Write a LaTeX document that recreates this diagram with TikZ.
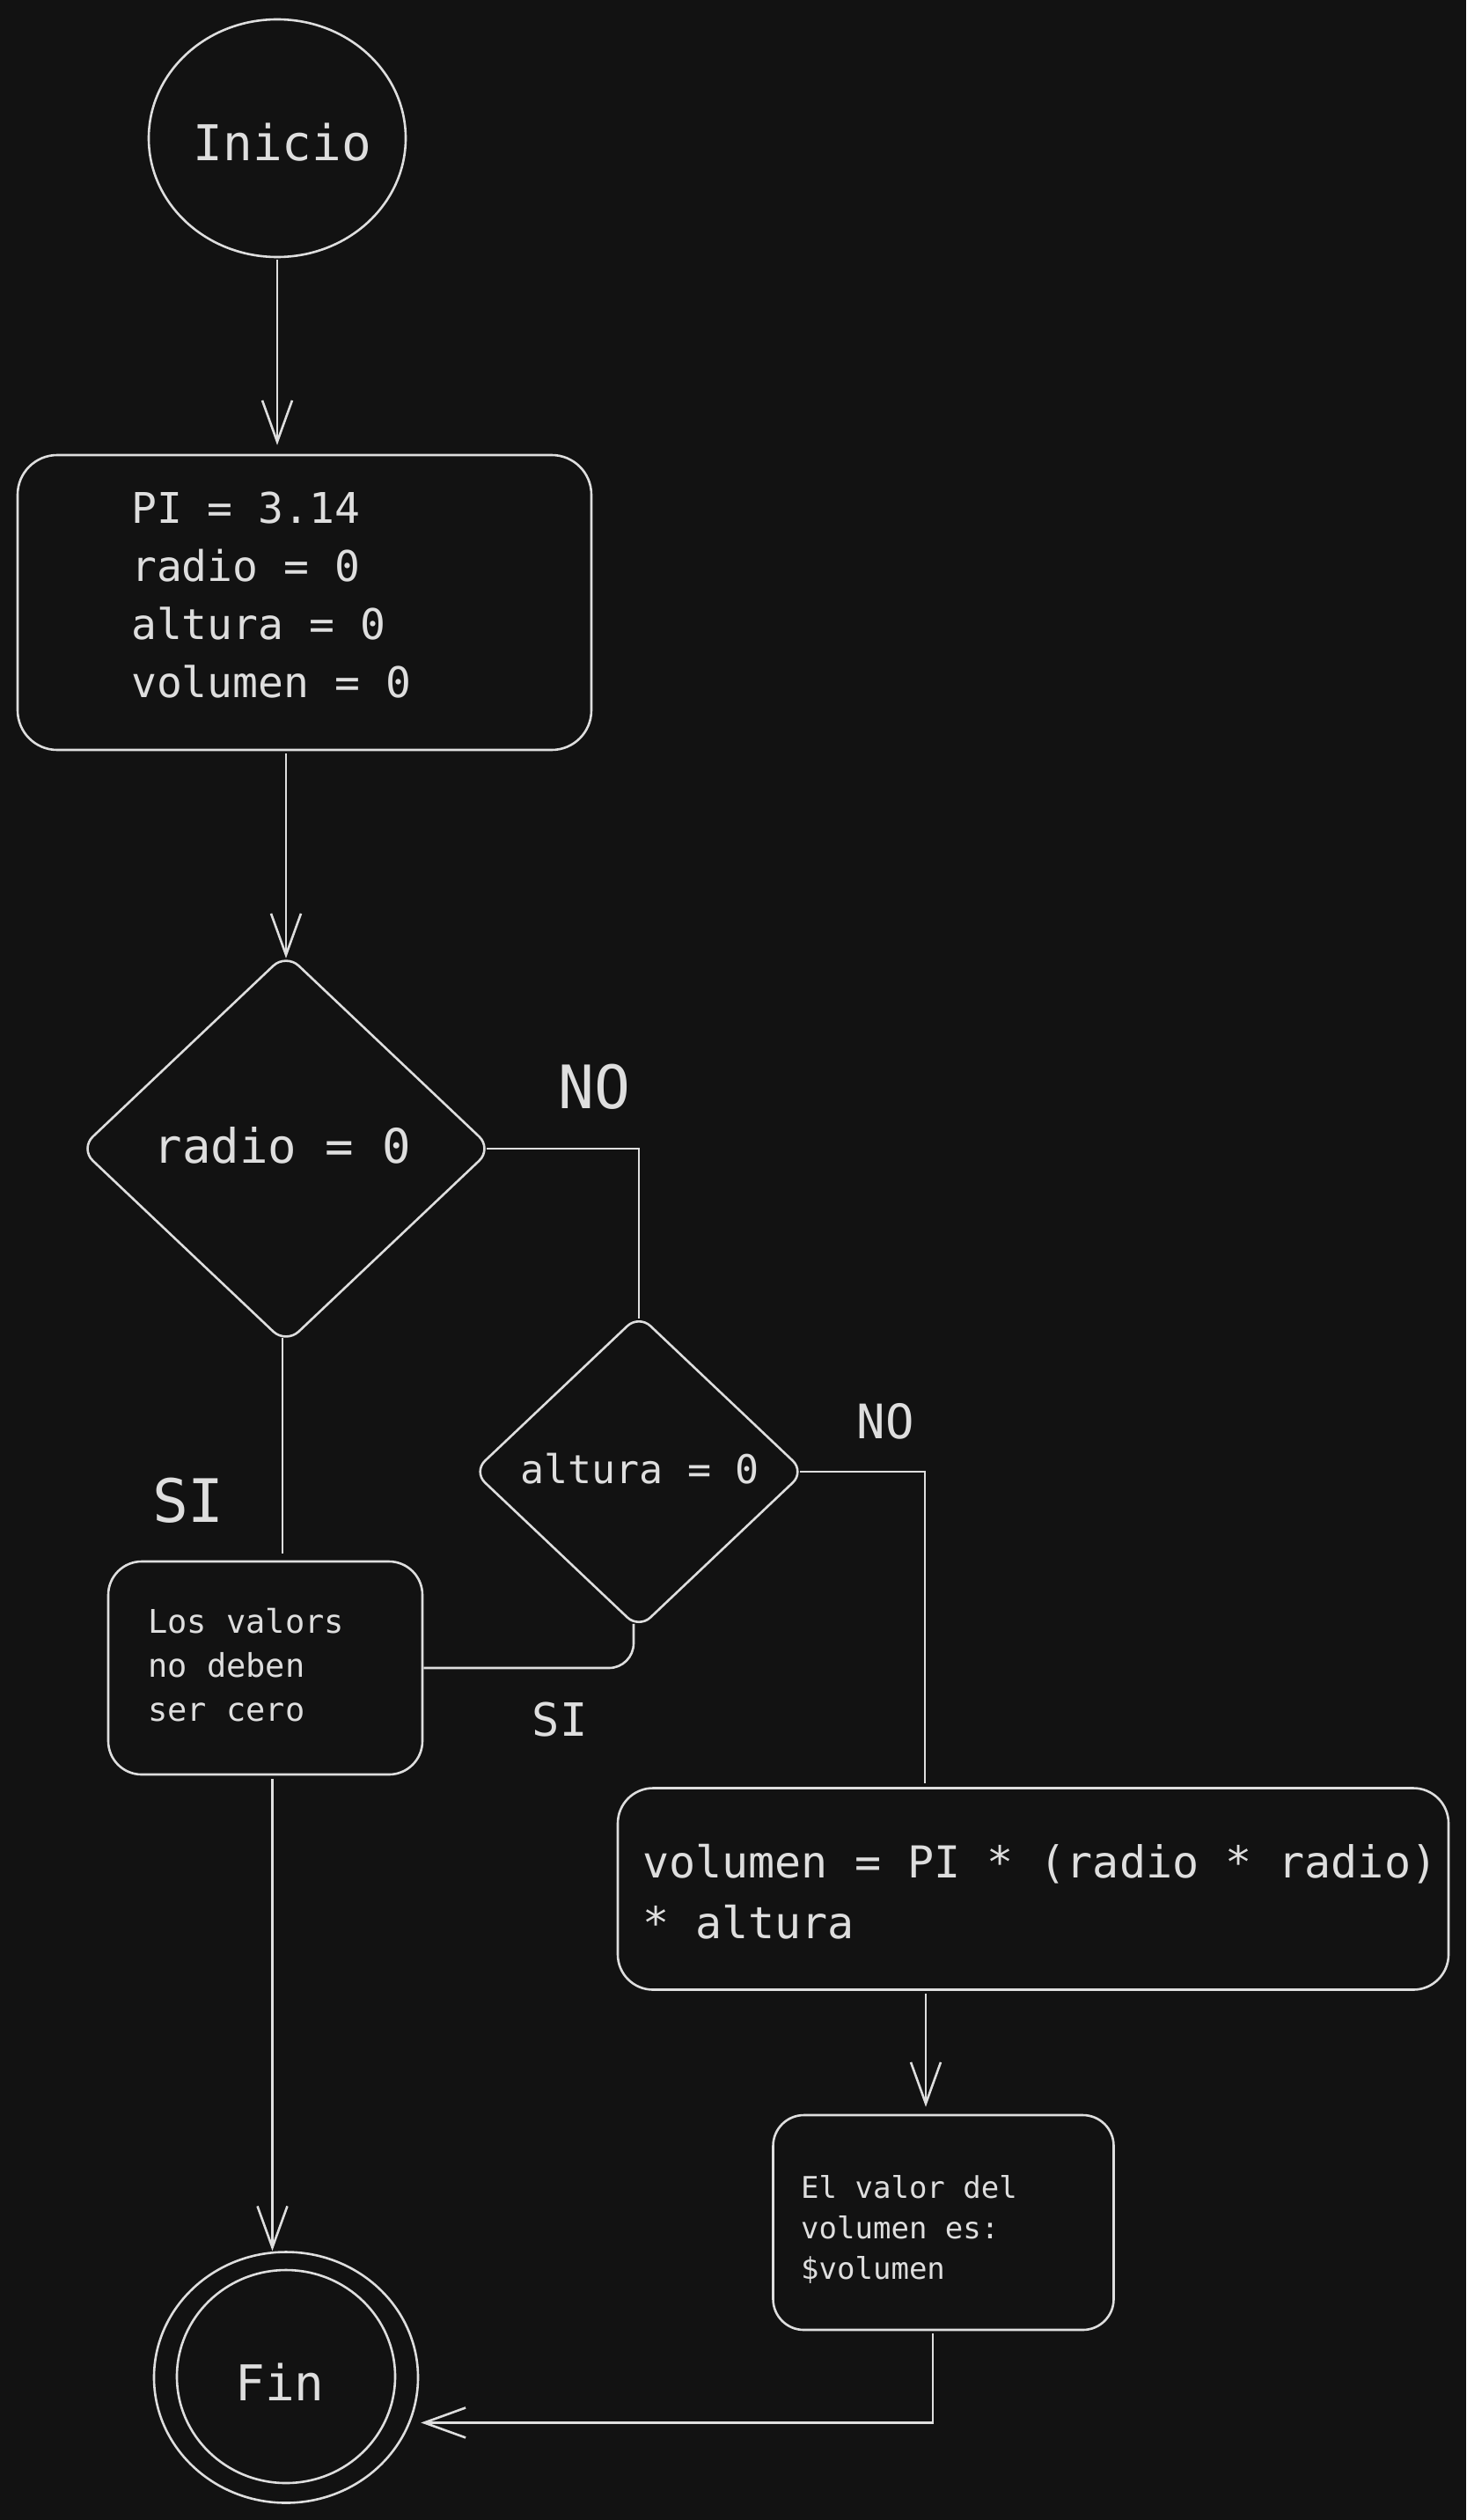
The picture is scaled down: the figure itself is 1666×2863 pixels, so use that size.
\documentclass[tikz,border=0pt]{standalone}
\usepackage{fontspec}
\newfontfamily\hand{DejaVu Sans Mono}
\usetikzlibrary{shapes.geometric,arrows.meta}
\definecolor{bg}{HTML}{121212}
\definecolor{ink}{HTML}{DEDEDE}
\begin{document}
\begin{tikzpicture}[x=1pt,y=-1pt,
  every node/.style={text=ink, font=\hand},
  fs/.style={font=\hand\fontsize{#1}{#1}\selectfont},
  shp/.style={draw=ink, line width=2.6pt, inner sep=0pt},
  box/.style={shp, rectangle, rounded corners=#1},
  dia/.style={shp, diamond, rounded corners=#1},
  txt/.style={anchor=base west, inner sep=0pt},
  ln/.style={draw=ink, line width=2.6pt},
  arr/.style={ln, -{Straight Barb[length=47pt,width=34pt]}}
]
\fill[bg] (0,0) rectangle (1666,2863);
\useasboundingbox (0,0) rectangle (1666,2863);

% Inicio
\node[shp, ellipse, minimum width=292pt, minimum height=270pt] (inicio) at (315,157) {};
\node[fs=56, anchor=base] (tinicio) at (321,183) {Inicio};

% init box
\node[box=45pt, minimum width=652pt, minimum height=335pt] (r1) at (346,684.5) {};
\node[txt, font=\hand\fontsize{48}{66}\selectfont] (tr1) at (149,594)
  {\begin{tabular}[t]{@{}l@{}}PI = 3.14\\radio = 0\\altura = 0\\volumen = 0\end{tabular}};

% decision 1
\node[dia=20pt, minimum width=469pt, minimum height=444pt] (d1) at (325,1305) {};
\node[fs=54, anchor=base] (td1) at (321,1321) {radio = 0};
\node[fs=68, anchor=base] (no1) at (675,1259) {NO};
\node[fs=68, anchor=base] (si1) at (214,1729) {SI};

% decision 2
\node[dia=18pt, minimum width=377pt, minimum height=357pt] (d2) at (726,1672) {};
\node[fs=45, anchor=base] (td2) at (727,1685) {altura = 0};
\node[fs=54, anchor=base] (no2) at (1006,1634) {NO};
\node[fs=52, anchor=base] (si2) at (636,1972) {SI};

% error box
\node[box=38pt, minimum width=357pt, minimum height=242pt] (lv) at (301.5,1895) {};
\node[txt, font=\hand\fontsize{37}{50}\selectfont] (tlv) at (168,1855)
  {\begin{tabular}[t]{@{}l@{}}Los valors\\no deben\\ser cero\end{tabular}};

% formula box
\node[box=40pt, minimum width=944pt, minimum height=229pt] (big) at (1174,2146) {};
\node[txt, font=\hand\fontsize{50}{69}\selectfont] (tbig) at (730,2133)
  {\begin{tabular}[t]{@{}l@{}}volumen = PI * (radio * radio)\\{}* altura\end{tabular}};

% output box
\node[box=35pt, minimum width=387pt, minimum height=244pt] (sm) at (1072,2525) {};
\node[txt, font=\hand\fontsize{34}{46}\selectfont] (tsm) at (910,2497)
  {\begin{tabular}[t]{@{}l@{}}El valor del\\volumen es:\\\$volumen\end{tabular}};

% Fin
\node[shp, ellipse, minimum width=300pt, minimum height=285pt] (fin) at (325,2701) {};
\node[shp, ellipse, minimum width=248pt, minimum height=242pt] (fin2) at (325,2700) {};
\node[fs=56, anchor=base] (tfin) at (318,2727) {Fin};

% connectors
\draw[arr, shorten <=2pt, shorten >=10pt] (inicio.south) -- (inicio.south |- r1.north);
\draw[arr, shorten <=3pt, shorten >=-7pt] (d1.north |- r1.south) -- (d1.north);
\draw[ln, shorten <=-8pt, shorten >=-6pt] (d1.east) -| (d2.north);
\draw[ln, shorten <=-8pt, shorten >=8pt] ([xshift=-4pt]d1.south) -- ([xshift=-4pt]d1.south |- lv.north);
\draw[ln, rounded corners=28pt, shorten <=-7pt] ([xshift=-6pt]d2.south) |- (lv.east);
\draw[ln, shorten <=-7pt, shorten >=4pt] (d2.east) -| ([xshift=-123pt]big.north);
\draw[arr, shorten <=3pt, shorten >=8pt] ([xshift=-20pt]sm.north |- big.south) -- ([xshift=-20pt]sm.north);
\draw[arr, shorten <=4pt] ([xshift=8pt]lv.south) -- ([xshift=8pt]lv.south |- fin.north);
\draw[arr, shorten <=3pt] ([xshift=-12pt]sm.south) |- ([xshift=12pt]fin.-20);
\end{tikzpicture}
\end{document}
